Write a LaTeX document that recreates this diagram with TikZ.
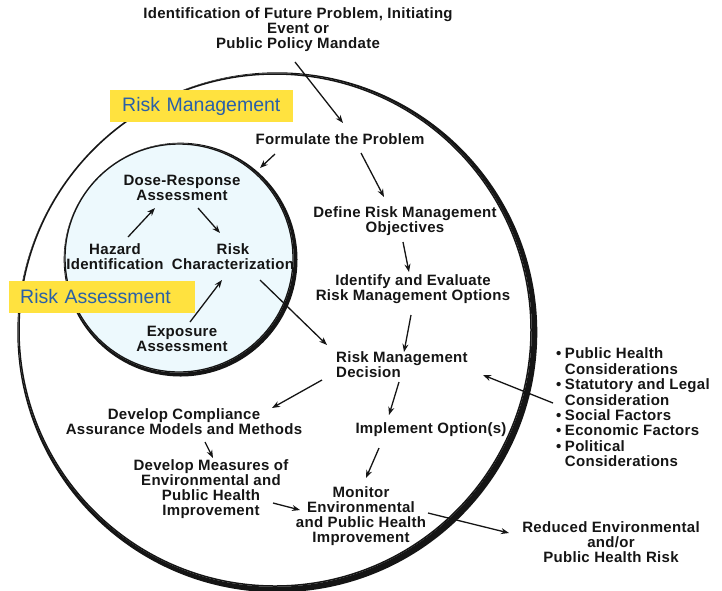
\documentclass[tikz,border=0pt]{standalone}
\usepackage{fontspec}
\newfontfamily\labfont[LetterSpace=2]{Liberation Sans}
\newfontfamily\boxfont{Liberation Sans}
\usetikzlibrary{arrows.meta}
\definecolor{rmyellow}{HTML}{FFE23F}
\definecolor{rmblue}{HTML}{2A60A8}
\definecolor{rafill}{HTML}{EDF9FD}
\definecolor{ink}{HTML}{151515}
\tikzset{
  lbl/.style={font=\labfont\bfseries\fontsize{15}{15}\selectfont, align=center, inner sep=0pt, text=ink},
  arr/.style={line width=1.3pt, draw=ink, -{Stealth[length=8pt,width=6pt]}},
  ybox/.style={fill=rmyellow, text=rmblue, font=\boxfont\fontsize{19.5}{22}\selectfont,
    align=left, anchor=west, minimum height=32pt, inner ysep=0pt},
}
\begin{document}
\begin{tikzpicture}[x=1pt,y=-1pt]
\useasboundingbox (0,0) rectangle (722,590);
% outer circle (thin top-left, heavy bottom-right)
\draw[line width=1.5pt, ink] (275,330) circle[radius=256pt];
\fill[ink, even odd rule] (275,330) circle[radius=256.75pt] (277.3,332.3) circle[radius=260pt];
% inner circle
\fill[rafill] (179,258) circle[radius=114pt];
\draw[line width=1.3pt, ink] (179,258) circle[radius=114pt];
\fill[ink, even odd rule] (179,258) circle[radius=114.65pt] (180.6,259.6) circle[radius=116.9pt];

% labels
\node[lbl] (title) at (298,30) {Identification of Future Problem, Initiating\\Event or\\Public Policy Mandate};
\node[lbl] (form) at (340,139) {Formulate the Problem};
\node[lbl] (define) at (405,221.5) {Define Risk Management\\Objectives};
\node[lbl] (identify) at (413,289.5) {Identify and Evaluate\\Risk Management Options};
\node[lbl, anchor=west, align=left] (decision) at (336,364.5) {Risk Management\\Decision};
\node[lbl] (implement) at (431,430) {Implement Option(s)};
\node[lbl] (monitor) at (361,516.5) {Monitor\\Environmental\\and Public Health\\Improvement};
\node[lbl] (reduced) at (611,542) {Reduced Environmental\\and/or\\Public Health Risk};
\node[lbl, anchor=west, align=left] (factors) at (556,409.5) {\begin{tabular}{@{}l@{\hspace{3.5pt}}l@{}}
•&Public Health\\ &Considerations\\ •&Statutory and Legal\\ &Consideration\\
•&Social Factors\\ •&Economic Factors\\ •&Political\\ &Considerations\end{tabular}};
\node[lbl] (compliance) at (184,421.5) {Develop Compliance\\Assurance Models and Methods};
\node[lbl] (measures) at (211,489.5) {Develop Measures of\\Environmental and\\Public Health\\Improvement};
\node[lbl] (dose) at (182,187.5) {Dose-Response\\Assessment};
\node[lbl] (hazard) at (115,256.5) {Hazard\\Identification};
\node[lbl] (riskchar) at (233,256.5) {Risk\\Characterization};
\node[lbl] (exposure) at (182,338.5) {Exposure\\Assessment};

% yellow boxes
\node[ybox, text width=159pt, inner xsep=12pt] (rmbox) at (110,106) {Risk Management};
\node[ybox, text width=164pt, inner xsep=11pt] (rabox) at (9,297) {Risk Assessment};

% connector end points
\coordinate (t1) at (295,62);   \coordinate (f1) at (343,123);
\coordinate (f2) at (275,154);  \coordinate (c2) at (260,168);
\coordinate (f3) at (361,153);  \coordinate (d3) at (384,197);
\coordinate (d4) at (403,242);  \coordinate (i4) at (409,272);
\coordinate (i5) at (411,315);  \coordinate (r5) at (404,352);
\coordinate (r6) at (399,382);  \coordinate (m6) at (389,415);
\coordinate (m7) at (379,448);  \coordinate (n7) at (366,478);
\coordinate (n8) at (428,513);  \coordinate (e8) at (509,533);
\coordinate (l9) at (553,403);  \coordinate (r9) at (483,375);
\coordinate (r10) at (322,380); \coordinate (c10) at (272,408);
\coordinate (c11) at (205,442); \coordinate (m11) at (213,458);
\coordinate (m12) at (273,503); \coordinate (n12) at (300,510);
\coordinate (h13) at (128,237); \coordinate (d13) at (155,208);
\coordinate (d14) at (198,208); \coordinate (k14) at (220,233);
\coordinate (x15) at (190,322); \coordinate (k15) at (222,280);
\coordinate (k16) at (260,280); \coordinate (r16) at (327,345);

\draw[arr] (t1) -- (f1);
\draw[arr] (f2) -- (c2);
\draw[arr] (f3) -- (d3);
\draw[arr] (d4) -- (i4);
\draw[arr] (i5) -- (r5);
\draw[arr] (r6) -- (m6);
\draw[arr] (m7) -- (n7);
\draw[arr] (n8) -- (e8);
\draw[arr] (l9) -- (r9);
\draw[arr] (r10) -- (c10);
\draw[arr] (c11) -- (m11);
\draw[arr] (m12) -- (n12);
\draw[arr] (h13) -- (d13);
\draw[arr] (d14) -- (k14);
\draw[arr] (x15) -- (k15);
\draw[arr] (k16) -- (r16);
\end{tikzpicture}
\end{document}
